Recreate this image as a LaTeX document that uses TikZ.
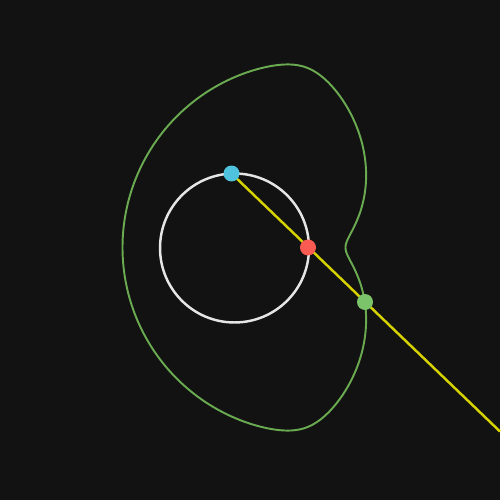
\documentclass[tikz,border=0pt]{standalone}
\definecolor{bg}{HTML}{121212}
\definecolor{ringcol}{HTML}{E6E6E6}
\definecolor{curvecol}{HTML}{6AAA50}
\definecolor{linecol}{HTML}{D6D200}
\definecolor{bluedot}{HTML}{4FC3DD}
\definecolor{reddot}{HTML}{F95A52}
\definecolor{greendot}{HTML}{7CC46A}
\tikzset{
  dot/.style={circle, inner sep=0pt, minimum size=0.32cm},
}
\begin{document}
\begin{tikzpicture}[x=0.02cm, y=-0.02cm,
    declare function={sp(\t)=max(\t,0)+0.06*ln(1+exp(-abs(\t)/0.06));
                      rr(\a)=185.5-148*sp(cos(\a));}]
        % background, 500 x 500
        \fill[bg] (0,0) rectangle (500,500);
        \useasboundingbox (0,0) rectangle (500,500);
        % points on the circle and on the curve
        \coordinate (O) at (234.5,248);
        \coordinate (B) at (231.5,173.5);
        \coordinate (R) at (308,247.5);
        \coordinate (G) at (365,302);
        \coordinate (E) at (500,431.5);
        % the curve, polar round the red point
        \draw[curvecol, line width=1.1pt] plot[domain=0:360, samples=241, smooth]
          ({308+rr(\x)*cos(\x)}, {247.5+rr(\x)*sin(\x)}) -- cycle;
        \node[draw=ringcol, line width=1.4pt, circle, inner sep=0pt,
              minimum size=2.98cm] (ring) at (O) {};
        \draw[linecol, line width=1.4pt] (B) -- (E);
        \node[dot, fill=bluedot] (blue) at (B) {};
        \node[dot, fill=reddot] (red) at (R) {};
        \node[dot, fill=greendot] (green) at (G) {};
    \end{tikzpicture}
\end{document}
